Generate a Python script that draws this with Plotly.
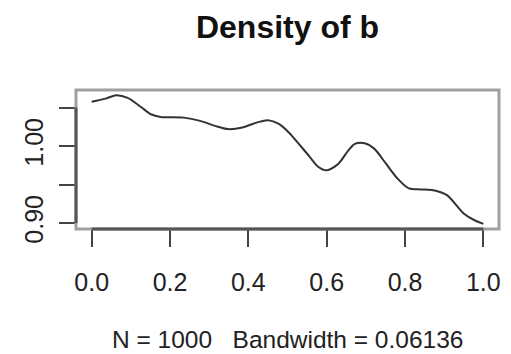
import plotly.graph_objects as go

# Density curve
x_vals = [0.0, 0.035, 0.063, 0.092, 0.126, 0.151, 0.176, 0.235, 0.277, 0.315, 0.348,
          0.385, 0.423, 0.449, 0.479, 0.504, 0.529, 0.554, 0.579, 0.600, 0.630, 0.655,
          0.672, 0.697, 0.722, 0.751, 0.781, 0.810, 0.840, 0.869, 0.907, 0.949, 0.980, 1.0]
density = [1.0576, 1.0617, 1.0662, 1.0627, 1.0508, 1.0414, 1.0379, 1.0370, 1.0328, 1.0263,
           1.0221, 1.0242, 1.0308, 1.0337, 1.0285, 1.0174, 1.0028, 0.9878, 0.9728, 0.9685,
           0.9771, 0.9942, 1.0028, 1.0036, 0.9964, 0.9775, 0.9578, 0.9450, 0.9437, 0.9431,
           0.9364, 0.9129, 0.9030, 0.8990]

x_ticks = [0.0, 0.2, 0.4, 0.6, 0.8, 1.0]
x_ticktext = ["0.0", "0.2", "0.4", "0.6", "0.8", "1.0"]
y_ticks = [0.90, 0.95, 1.00, 1.05]
y_ticktext = ["0.90", "", "1.00", ""]

title_text = "Density of b"
xlab_text = "N = 1000\u00a0\u00a0 Bandwidth = 0.06136"

FONT = "Liberation Sans, Arial, Helvetica, sans-serif"

fig = go.Figure()
fig.add_trace(go.Scatter(
    x=x_vals, y=density, mode="lines",
    line=dict(color="#333333", width=2, shape="spline", smoothing=0.8),
    hoverinfo="skip", showlegend=False,
))

fig.update_layout(
    width=511, height=354,
    margin=dict(l=76, r=10, t=90, b=125),
    paper_bgcolor="white", plot_bgcolor="white",
    font=dict(family=FONT, color="#222222"),
    title=dict(text="<b>" + title_text + "</b>", x=0.5, xref="paper",
               y=1 - 27 / 354, yref="container", yanchor="middle",
               font=dict(size=32, color="#111111", family=FONT)),
    xaxis=dict(range=[-0.04, 1.04], tickvals=x_ticks, ticktext=x_ticktext,
               ticks="outside", ticklen=17, tickwidth=2, tickcolor="#444444",
               showgrid=False, zeroline=False, showline=False,
               tickfont=dict(size=25, color="#222222"), ticklabelstandoff=14),
    yaxis=dict(range=[0.8923, 1.0729], tickvals=y_ticks, ticktext=y_ticktext,
               ticks="outside", ticklen=16, tickwidth=2, tickcolor="#444444",
               showgrid=False, zeroline=False, showline=False, tickangle=-90,
               tickfont=dict(size=25, color="#222222"), ticklabelstandoff=6),
    annotations=[dict(text=xlab_text, xref="paper", yref="paper", x=0.5,
                      y=-(339 - 229) / 139, yanchor="middle", xanchor="center",
                      showarrow=False, font=dict(size=24.5, color="#222222", family=FONT))],
    shapes=[
        dict(type="rect", xref="paper", yref="paper", x0=0, x1=1, y0=0, y1=1,
             line=dict(color="#a0a0a0", width=3), layer="above"),
        dict(type="line", xref="x", yref="paper", x0=0, x1=1, y0=0, y1=0,
             line=dict(color="#555555", width=3), layer="above"),
        dict(type="line", xref="paper", yref="y", x0=0, x1=0, y0=0.90, y1=1.05,
             line=dict(color="#555555", width=3), layer="above"),
    ],
)

fig.write_html("out.html")
